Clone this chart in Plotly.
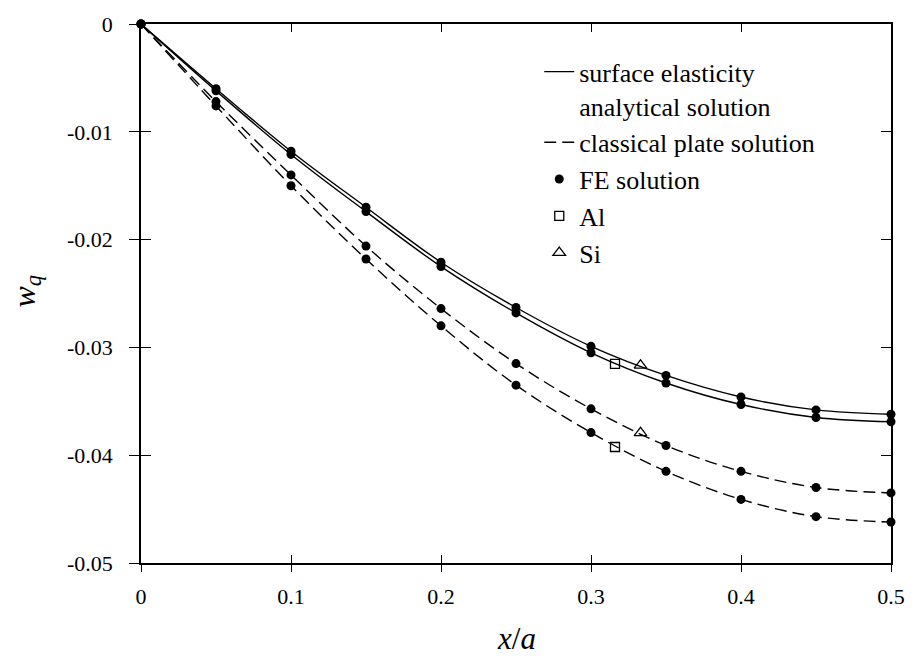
import plotly.graph_objects as go

# ---- data ----
x = [0.0, 0.05, 0.10, 0.15, 0.20, 0.25, 0.30, 0.35, 0.40, 0.45, 0.50]
se_si = [0.0, -0.0060, -0.0118, -0.0170, -0.0221, -0.0263, -0.0299, -0.0326, -0.0346, -0.0358, -0.0362]
se_al = [0.0, -0.0062, -0.0121, -0.0174, -0.0225, -0.0268, -0.0305, -0.0333, -0.0353, -0.0365, -0.0369]
cp_si = [0.0, -0.0072, -0.0140, -0.0206, -0.0264, -0.0315, -0.0357, -0.0391, -0.0415, -0.0430, -0.0435]
cp_al = [0.0, -0.0076, -0.0150, -0.0218, -0.0280, -0.0335, -0.0379, -0.0415, -0.0441, -0.0457, -0.0462]

al_x = [0.316, 0.316]
al_y = [-0.03152, -0.03924]
si_x = [0.333, 0.333]
si_y = [-0.03167, -0.03793]

x_ticks = [0, 0.1, 0.2, 0.3, 0.4, 0.5]
x_labels = ["0", "0.1", "0.2", "0.3", "0.4", "0.5"]
y_ticks = [0, -0.01, -0.02, -0.03, -0.04, -0.05]
y_labels = ["0", "-0.01", "-0.02", "-0.03", "-0.04", "-0.05"]

FONT = "Liberation Serif, Times New Roman, DejaVu Serif, serif"

fig = go.Figure()

line_solid = dict(color="black", width=1.4, shape="spline", smoothing=1.0)
line_dash = dict(color="black", width=1.4, shape="spline", smoothing=1.0, dash="12px,6px")

fig.add_trace(go.Scatter(x=x, y=se_si, mode="lines", line=line_solid,
                         name="surface elasticity<br>analytical solution", showlegend=True))
fig.add_trace(go.Scatter(x=x, y=se_al, mode="lines", line=line_solid, showlegend=False))
fig.add_trace(go.Scatter(x=x, y=cp_si, mode="lines", line=line_dash,
                         name="classical plate solution", showlegend=True))
fig.add_trace(go.Scatter(x=x, y=cp_al, mode="lines", line=line_dash, showlegend=False))

fe_x = x * 4
fe_y = se_si + se_al + cp_si + cp_al
fig.add_trace(go.Scatter(x=fe_x, y=fe_y, mode="markers", name="FE solution",
                         marker=dict(symbol="circle", size=9, color="black"),
                         cliponaxis=False))
fig.add_trace(go.Scatter(x=al_x, y=al_y, mode="markers", name="Al",
                         marker=dict(symbol="square-open", size=9, color="black",
                                     line=dict(width=1.3, color="black")),
                         cliponaxis=False))
fig.add_trace(go.Scatter(x=si_x, y=si_y, mode="markers", name="Si",
                         marker=dict(symbol="triangle-up-open", size=11, color="black",
                                     line=dict(width=1.3, color="black")),
                         cliponaxis=False))

# overlay axes that provide the inside tick marks
fig.add_trace(go.Scatter(x=[None], y=[None], xaxis="x2", yaxis="y2", showlegend=False))

axis_common = dict(showgrid=False, zeroline=False, showline=True, linecolor="black",
                   linewidth=1.5, tickcolor="black", tickwidth=1.3)

fig.update_layout(
    width=917, height=670,
    margin=dict(l=141, r=20, t=18, b=107),
    paper_bgcolor="white", plot_bgcolor="white",
    font=dict(family=FONT, size=22, color="black"),
    xaxis=dict(range=[0, 0.5], tickvals=x_ticks, ticktext=x_labels, ticks="outside",
               ticklen=7, mirror=True, ticklabelstandoff=6, **axis_common),
    yaxis=dict(range=[-0.05, 0], tickvals=y_ticks, ticktext=y_labels, ticks="outside",
               ticklen=10, mirror=True, ticklabelstandoff=12, **axis_common),
    xaxis2=dict(range=[0, 0.5], overlaying="x", anchor="y2", side="bottom",
                tickvals=x_ticks, ticks="inside", ticklen=8, mirror="ticks",
                showticklabels=False, **axis_common),
    yaxis2=dict(range=[-0.05, 0], overlaying="y", anchor="x2", side="left",
                tickvals=y_ticks, ticks="inside", ticklen=10, mirror="ticks",
                showticklabels=False, **axis_common),
    legend=dict(x=0.531, y=0.955, xanchor="left", yanchor="top",
                bgcolor="rgba(0,0,0,0)", font=dict(family=FONT, size=26),
                valign="top", tracegroupgap=0),
    showlegend=True,
    annotations=[
        dict(text="<i>w<sub>q</sub></i>", xref="paper", yref="paper",
             x=0, y=0.5, xshift=-115, yshift=2, xanchor="center", yanchor="middle",
             textangle=-90, showarrow=False, font=dict(family=FONT, size=32)),
        dict(text="<i>x</i>/<i>a</i>", xref="paper", yref="paper",
             x=0.5, y=0, yshift=-75, xanchor="center", yanchor="middle",
             showarrow=False, font=dict(family=FONT, size=31)),
    ],
)

fig.write_html("out.html")
